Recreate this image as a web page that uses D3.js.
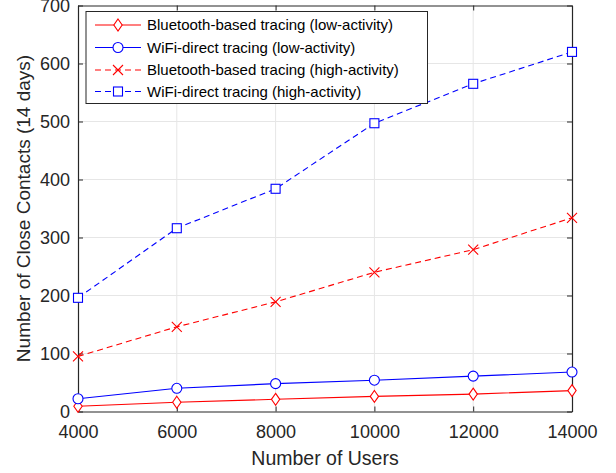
<!DOCTYPE html>
<html>
<head>
<meta charset="utf-8">
<script src="https://cdn.jsdelivr.net/npm/d3@7"></script>
<style>
  body { margin: 0; background: #fff; }
  svg { display: block; font-family: "Liberation Sans", Arial, sans-serif; }
</style>
</head>
<body>
<div id="chart"></div>
<script>
// data
const users = [4000, 6000, 8000, 10000, 12000, 14000];
const btLow = [9, 16, 21, 26, 30, 36];
const wifiLow = [22, 40, 48, 54, 61, 68];
const btHigh = [95, 146, 189, 240, 279, 334];
const wifiHigh = [196, 316, 384, 497, 565, 620];
const xTicks = [4000, 6000, 8000, 10000, 12000, 14000];
const yTicks = [0, 100, 200, 300, 400, 500, 600, 700];

const series = [
  { name: 'Bluetooth-based tracing (low-activity)', values: btLow, color: '#ff0000', dash: null, marker: 'diamond' },
  { name: 'WiFi-direct tracing (low-activity)', values: wifiLow, color: '#0000ff', dash: null, marker: 'circle' },
  { name: 'Bluetooth-based tracing (high-activity)', values: btHigh, color: '#ff0000', dash: '6,4', marker: 'cross' },
  { name: 'WiFi-direct tracing (high-activity)', values: wifiHigh, color: '#0000ff', dash: '6,4', marker: 'square' }
];

const W = 616, H = 473;
const margin = { top: 5.5, right: 44, bottom: 61.5, left: 78 };
const width = W - margin.left - margin.right;
const height = H - margin.top - margin.bottom;

const svg = d3.select('#chart').append('svg')
  .attr('width', W).attr('height', H);

const g = svg.append('g')
  .attr('transform', `translate(${margin.left},${margin.top})`);

const x = d3.scaleLinear().domain([4000, 14000]).range([0, width]);
const y = d3.scaleLinear().domain([0, 700]).range([height, 0]);

// grid
g.append('g').selectAll('line.gx')
  .data(xTicks.slice(1, -1)).enter().append('line')
  .attr('x1', d => x(d)).attr('x2', d => x(d))
  .attr('y1', 0).attr('y2', height)
  .attr('stroke', '#e6e6e6').attr('stroke-width', 1);
g.append('g').selectAll('line.gy')
  .data(yTicks.slice(1, -1)).enter().append('line')
  .attr('x1', 0).attr('x2', width)
  .attr('y1', d => y(d)).attr('y2', d => y(d))
  .attr('stroke', '#e6e6e6').attr('stroke-width', 1);

// axes (MATLAB style, inward ticks on all sides)
const tickColor = '#262626';
g.append('g').attr('transform', `translate(0,${height})`)
  .call(d3.axisBottom(x).tickValues(xTicks).tickSizeInner(-5).tickSizeOuter(0).tickPadding(13.5).tickFormat(d3.format('d')));
g.append('g')
  .call(d3.axisLeft(y).tickValues(yTicks).tickSizeInner(-5).tickSizeOuter(0).tickPadding(8));
g.append('g')
  .call(d3.axisTop(x).tickValues(xTicks).tickSizeInner(-5).tickSizeOuter(0).tickFormat(''));
g.append('g').attr('transform', `translate(${width},0)`)
  .call(d3.axisRight(y).tickValues(yTicks).tickSizeInner(-5).tickSizeOuter(0).tickFormat(''));

g.selectAll('.domain').attr('stroke', tickColor).attr('stroke-width', 1.2);
g.selectAll('.tick line').attr('stroke', tickColor);
g.selectAll('.tick text').attr('fill', tickColor).style('font-size', '18px');

// lines
const line = d3.line().x((d, i) => x(users[i])).y(d => y(d));

function drawMarker(sel, type, color, size) {
  const s = size;
  if (type === 'diamond') {
    sel.append('path').attr('d', `M0,${-s * 1.15}L${s * 0.8},0L0,${s * 1.15}L${-s * 0.8},0Z`)
      .attr('fill', '#fff').attr('stroke', color).attr('stroke-width', 1.1);
  } else if (type === 'circle') {
    sel.append('circle').attr('r', s)
      .attr('fill', '#fff').attr('stroke', color).attr('stroke-width', 1.1);
  } else if (type === 'cross') {
    sel.append('path').attr('d', `M${-s},${-s}L${s},${s}M${-s},${s}L${s},${-s}`)
      .attr('fill', 'none').attr('stroke', color).attr('stroke-width', 1.1);
  } else if (type === 'square') {
    sel.append('rect').attr('x', -s).attr('y', -s).attr('width', 2 * s).attr('height', 2 * s)
      .attr('fill', '#fff').attr('stroke', color).attr('stroke-width', 1.1);
  }
}
const markerSize = { diamond: 5.2, circle: 5, cross: 5, square: 4.5 };

series.forEach(s => {
  g.append('path').datum(s.values)
    .attr('d', line)
    .attr('fill', 'none')
    .attr('stroke', s.color)
    .attr('stroke-width', 1.1)
    .attr('stroke-dasharray', s.dash);
  g.append('g').selectAll('g')
    .data(s.values).enter().append('g')
    .attr('transform', (d, i) => `translate(${x(users[i])},${y(d)})`)
    .each(function () { drawMarker(d3.select(this), s.marker, s.color, markerSize[s.marker]); });
});

// axis labels
svg.append('text')
  .attr('x', margin.left + width / 2).attr('y', 464.5)
  .attr('text-anchor', 'middle').attr('fill', tickColor)
  .style('font-size', '19.5px').text('Number of Users');
svg.append('text')
  .attr('transform', `translate(29.5,${margin.top + height / 2}) rotate(-90)`)
  .attr('text-anchor', 'middle').attr('fill', tickColor)
  .style('font-size', '19px').text('Number of Close Contacts (14 days)');

// legend
const legend = svg.append('g').attr('transform', 'translate(86,11.5)');
legend.append('rect').attr('width', 341.5).attr('height', 92)
  .attr('fill', '#fff').attr('stroke', '#262626').attr('stroke-width', 1);
const rowY = [13.5, 36, 58.5, 80];
series.forEach((s, i) => {
  const row = legend.append('g').attr('transform', `translate(0,${rowY[i]})`);
  row.append('line').attr('x1', 9).attr('x2', 55)
    .attr('stroke', s.color).attr('stroke-width', 1.1)
    .attr('stroke-dasharray', s.dash);
  const m = row.append('g').attr('transform', 'translate(32,0)');
  drawMarker(m, s.marker, s.color, markerSize[s.marker]);
  row.append('text').attr('x', 61).attr('y', 0).attr('dy', '0.35em')
    .attr('fill', '#000').style('font-size', '15px').text(s.name);
});
</script>
</body>
</html>
